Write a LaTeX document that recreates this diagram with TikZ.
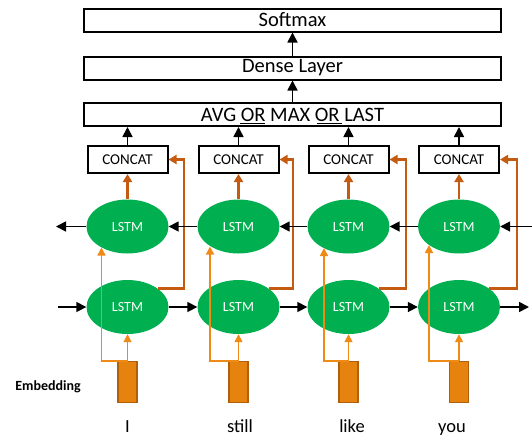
\documentclass[tikz,border=0pt]{standalone}
\usepackage{fontspec}
\setmainfont{Carlito}
\usetikzlibrary{arrows.meta,shapes.geometric}
\definecolor{lstmgreen}{HTML}{00B050}
\definecolor{embfill}{HTML}{E6830F}
\definecolor{embborder}{HTML}{B0600A}
\definecolor{orangeline}{HTML}{EE8A15}
\definecolor{brownline}{HTML}{C55A11}
\begin{document}
\begin{tikzpicture}[x=1pt,y=-1pt,
  topbox/.style={draw, line width=2pt, minimum width=417pt, minimum height=23pt, inner sep=0pt, font=\fontsize{20.5}{20.5}\selectfont},
  concat/.style={draw, line width=2pt, minimum width=80pt, minimum height=27pt, inner sep=0pt, font=\fontsize{15}{15}\selectfont},
  lstm/.style={ellipse, fill=lstmgreen, minimum width=82pt, minimum height=54pt, inner sep=0pt, text=white, font=\fontsize{14}{14}\selectfont},
  emb/.style={draw=embborder, fill=embfill, line width=1.5pt, minimum width=19pt, minimum height=41pt, inner sep=0pt},
  word/.style={anchor=base, inner sep=0pt, font=\fontsize{18.5}{18.5}\selectfont},
  blk/.style={-{Triangle[length=10pt,width=10pt]}, line width=1.7pt},
  brn/.style={draw=brownline, line width=2.5pt, -{Triangle[length=8pt,width=9pt]}},
  org/.style={draw=orangeline, line width=1.6pt, -{Triangle[length=8pt,width=8pt]}},
]
\useasboundingbox (0,0) rectangle (532,437);

% top boxes
\node[topbox] (soft) at (292.5,20) {Softmax};
\node[topbox] (dense) at (292.5,68) {Dense Layer};
\node[topbox] (pool) at (292.5,114.5) {AVG OR MAX OR LAST};
\draw[blk] (dense.north) -- (soft.south);
\draw[blk] (pool.north) -- (dense.south);
\draw[line width=1.6pt] (240,123.5) -- (265,123.5);
\draw[line width=1.6pt] (317,123.5) -- (342,123.5);

% columns
\foreach \i/\c/\w/\lx/\ly/\bx/\word in {1/127.5/127.5/101.5/247.5/184/I, 2/238.5/240/210/246.5/293/still, 3/348.5/352/324/248/406/like, 4/459/452/429/245/517/you}{
  \node[concat] (C\i) at (\c,159.5) {CONCAT};
  \node[lstm] (U\i) at (\c,226.5) {LSTM};
  \node[lstm] (D\i) at (\c,307) {LSTM};
  \node[emb] (E\i) at (\c,382) {};
  \node[word] (W\i) at (\w,432) {\word};
  \coordinate (t\i) at (\lx,\ly);
  \coordinate (b\i) at (\bx,159.5);
  \draw[blk] (C\i.north) -- (C\i.north |- pool.south);
  \draw[brn] (U\i.north) -- (C\i.south);
  \draw[brn] (D\i.31) -| (b\i) -- (C\i.east);
  \draw[org] (E\i.north) -- (D\i.south);
  \draw[org] (E\i.north) -| (t\i);
}

% recurrent arrows
\coordinate (ul) at (56,226.5);
\coordinate (ur) at (532,226.5);
\coordinate (dl) at (58,307);
\coordinate (dr) at (529,307);
\draw[blk] (U1.west) -- (ul);
\draw[blk] (U2.west) -- (U1.east);
\draw[blk] (U3.west) -- (U2.east);
\draw[blk] (U4.west) -- (U3.east);
\draw[blk] (ur) -- (U4.east);
\draw[blk] (dl) -- (D1.west);
\draw[blk] (D1.east) -- (D2.west);
\draw[blk] (D2.east) -- (D3.west);
\draw[blk] (D3.east) -- (D4.west);
\draw[blk] (D4.east) -- (dr);

\node[anchor=base, font=\bfseries\fontsize{14}{14}\selectfont] (emblabel) at (48,390) {Embedding};
\end{tikzpicture}
\end{document}
